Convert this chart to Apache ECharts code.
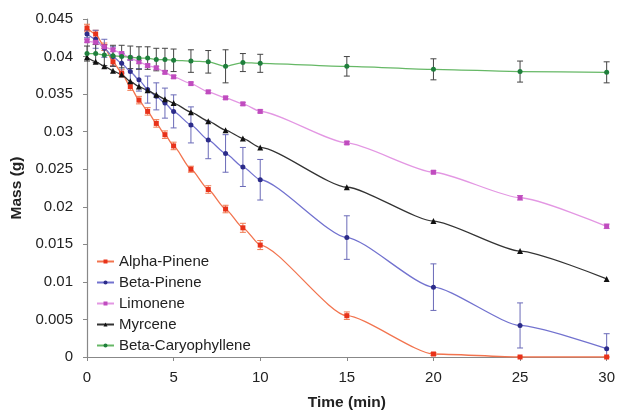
<!DOCTYPE html>
<html>
<head>
<meta charset="utf-8">
<script src="https://cdn.jsdelivr.net/npm/echarts@6/dist/echarts.min.js"></script>
<style>
  html, body { margin: 0; padding: 0; background: #fff; }
  #chart { width: 618px; height: 416px; }
</style>
</head>
<body>
<div id="chart"></div>
<script>
// time points (min)
const times = [0, 0.5, 1, 1.5, 2, 2.5, 3, 3.5, 4, 4.5, 5, 6, 7, 8, 9, 10, 15, 20, 25, 30];

// mass (g) per compound
const alphaPinene = [0.0438, 0.0430, 0.0413, 0.0393, 0.0378, 0.0360, 0.0342, 0.0327, 0.0311, 0.0296, 0.0281, 0.0250, 0.0223, 0.0197, 0.0172, 0.0149, 0.0055, 0.0004, 0, 0];
const alphaErr    = [0.0005, 0.0005, 0.0005, 0.0005, 0.0005, 0.0005, 0.0005, 0.0005, 0.0005, 0.0005, 0.0005, 0.0004, 0.0005, 0.0005, 0.0006, 0.0006, 0.0005, 0.0002, 0, 0];

const betaPinene = [0.0430, 0.0423, 0.0411, 0.0400, 0.0391, 0.0380, 0.0369, 0.0356, 0.0347, 0.0338, 0.0327, 0.0309, 0.0289, 0.0271, 0.0253, 0.0236, 0.0159, 0.0093, 0.0042, 0.0011];
const betaErr    = [0.0005, 0.0012, 0.0012, 0.0013, 0.0013, 0.0015, 0.0015, 0.0018, 0.0018, 0.0020, 0.0022, 0.0024, 0.0025, 0.0025, 0.0026, 0.0027, 0.0029, 0.0031, 0.0030, 0.0020];

const limonene = [0.0421, 0.0419, 0.0413, 0.0409, 0.0404, 0.0398, 0.0393, 0.0388, 0.0385, 0.0379, 0.0373, 0.0364, 0.0353, 0.0345, 0.0337, 0.0327, 0.0285, 0.0246, 0.0212, 0.0174];
const limoneneErr = [0.0002, 0.0002, 0.0002, 0.0002, 0.0002, 0.0002, 0.0002, 0.0002, 0.0002, 0.0002, 0.0002, 0.0002, 0.0002, 0.0002, 0.0002, 0.0002, 0.0002, 0.0002, 0.0003, 0.0003];

const myrcene = [0.0399, 0.0393, 0.0387, 0.0381, 0.0376, 0.0367, 0.0360, 0.0355, 0.0349, 0.0343, 0.0338, 0.0326, 0.0314, 0.0302, 0.0291, 0.0279, 0.0226, 0.0181, 0.0141, 0.0104];

const caryophyllene = [0.0404, 0.0404, 0.0402, 0.0401, 0.0400, 0.0399, 0.0398, 0.0398, 0.0396, 0.0396, 0.0395, 0.0394, 0.0393, 0.0387, 0.0392, 0.0391, 0.0387, 0.0383, 0.0380, 0.0379];
const caryoErr      = [0.0010, 0.0012, 0.0014, 0.0014, 0.0015, 0.0015, 0.0015, 0.0015, 0.0015, 0.0015, 0.0015, 0.0015, 0.0015, 0.0022, 0.0012, 0.0012, 0.0013, 0.0014, 0.0014, 0.0014];

const compounds = [
  { name: "Alpha-Pinene", values: alphaPinene, err: alphaErr, line: "#f2744f", mark: "#e8321a", errColor: "#f07a50", symbol: "rect", size: 5 },
  { name: "Beta-Pinene", values: betaPinene, err: betaErr, line: "#7272cf", mark: "#2c2c8a", errColor: "#6a6ab8", symbol: "circle", size: 5 },
  { name: "Limonene", values: limonene, err: limoneneErr, line: "#e397e3", mark: "#c04cbf", errColor: "#c870c8", symbol: "rect", size: 5 },
  { name: "Myrcene", values: myrcene, err: null, line: "#333333", mark: "#111111", errColor: "#333", symbol: "triangle", size: 6 },
  { name: "Beta-Caryophyllene", values: caryophyllene, err: caryoErr, line: "#66b866", mark: "#1f7f3c", errColor: "#444444", symbol: "circle", size: 5 }
];

const font = "'Liberation Sans', Arial, sans-serif";

function errorBars(color) {
  return function (params, api) {
    const x = api.value(0);
    let lo = api.value(1);
    const hi = api.value(2);
    const clipped = lo < 0;
    if (clipped) lo = 0;
    const top = api.coord([x, hi]);
    const bot = api.coord([x, lo]);
    const cap = 3;
    const style = { stroke: color, lineWidth: 1 };
    const children = [
      { type: "line", shape: { x1: top[0], y1: top[1], x2: bot[0], y2: bot[1] }, style },
      { type: "line", shape: { x1: top[0] - cap, y1: top[1], x2: top[0] + cap, y2: top[1] }, style }
    ];
    if (!clipped) {
      children.push({ type: "line", shape: { x1: bot[0] - cap, y1: bot[1], x2: bot[0] + cap, y2: bot[1] }, style });
    }
    return { type: "group", children };
  };
}

const series = [];
compounds.forEach((c) => {
  if (c.err) {
    series.push({
      type: "custom",
      name: c.name + " err",
      renderItem: errorBars(c.errColor),
      data: times.map((t, i) => [t, c.values[i] - c.err[i], c.values[i] + c.err[i]]),
      z: 1,
      silent: true
    });
  }
});
compounds.forEach((c) => {
  series.push({
    type: "line",
    name: c.name,
    data: times.map((t, i) => [t, c.values[i]]),
    smooth: 0.2,
    smoothMonotone: "x",
    symbol: c.symbol,
    symbolSize: c.size,
    showAllSymbol: true,
    lineStyle: { color: c.line, width: 1.3 },
    itemStyle: { color: c.mark },
    z: 3
  });
});

const chart = echarts.init(document.getElementById("chart"));
chart.setOption({
  animation: false,
  backgroundColor: "#ffffff",
  textStyle: { fontFamily: font },
  grid: { left: 87, right: 11, top: 19, bottom: 58 },
  legend: {
    data: compounds.map((c) => c.name),
    orient: "vertical",
    left: 96,
    top: 254,
    padding: 0,
    itemWidth: 17,
    itemHeight: 5,
    itemGap: 6,
    textStyle: { fontFamily: font, fontSize: 15, color: "#222", padding: [0, 0, 0, 0] }
  },
  xAxis: {
    type: "value",
    min: 0,
    max: 30,
    interval: 5,
    name: "Time (min)",
    nameLocation: "middle",
    nameGap: 38,
    nameTextStyle: { fontFamily: font, fontSize: 15.5, fontWeight: "bold", color: "#222" },
    axisLine: { lineStyle: { color: "#888", width: 1.2 } },
    axisTick: { show: true, inside: false, length: 4, lineStyle: { color: "#888" } },
    axisLabel: { fontFamily: font, fontSize: 15, color: "#222", margin: 13 },
    splitLine: { show: false }
  },
  yAxis: {
    type: "value",
    min: 0,
    max: 0.045,
    interval: 0.005,
    name: "Mass (g)",
    nameLocation: "middle",
    nameRotate: 90,
    nameGap: 54,
    nameTextStyle: { fontFamily: font, fontSize: 15.5, fontWeight: "bold", color: "#222" },
    axisLine: { show: true, lineStyle: { color: "#888", width: 1.2 } },
    axisTick: { show: true, inside: false, length: 4, lineStyle: { color: "#888" } },
    axisLabel: { fontFamily: font, fontSize: 15, color: "#222", margin: 14 },
    splitLine: { show: false }
  },
  series
});
</script>
</body>
</html>
